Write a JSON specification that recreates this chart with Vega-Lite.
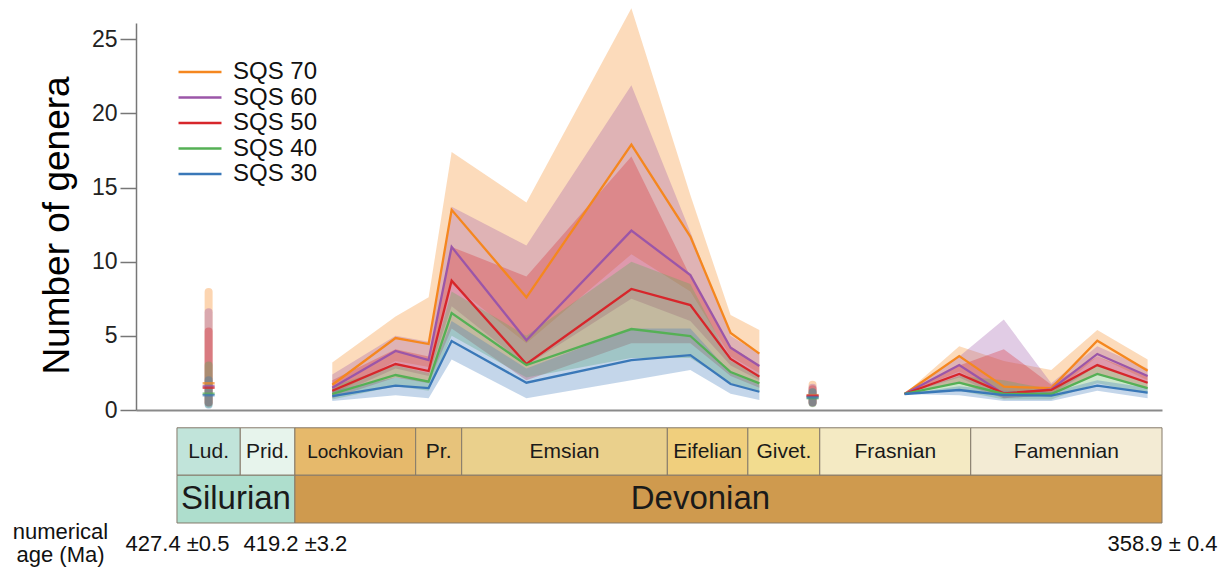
{
  "$schema": "https://vega.github.io/schema/vega-lite/v6.json",
  "width": 1026,
  "height": 387,
  "autosize": "none",
  "padding": {"left": 136, "top": 23, "right": 61, "bottom": 160},
  "background": "white",
  "resolve": {"legend": {"color": "independent"}},
  "config": {
    "font": "Liberation Sans",
    "view": {"stroke": null},
    "legend": {
      "orient": "none",
      "legendX": 52,
      "legendY": 37,
      "title": null,
      "symbolType": "M-3,0H3",
      "symbolSize": 205,
      "symbolStrokeWidth": 2.5,
      "labelFontSize": 24,
      "labelColor": "#111",
      "labelOffset": 21,
      "rowPadding": 1.5
    }
  },
  "datasets": {
    "series": [
      {"s": "SQS 70", "seg": "m", "age": 416.6, "v": 1.7, "lo": 1.0, "hi": 3.2},
      {"s": "SQS 70", "seg": "m", "age": 412.2, "v": 4.85, "lo": 3.3, "hi": 6.3},
      {"s": "SQS 70", "seg": "m", "age": 409.9, "v": 4.45, "lo": 2.9, "hi": 7.6},
      {"s": "SQS 70", "seg": "m", "age": 408.3, "v": 13.5, "lo": 8.5, "hi": 17.4},
      {"s": "SQS 70", "seg": "m", "age": 403.1, "v": 7.6, "lo": 4.5, "hi": 14.0},
      {"s": "SQS 70", "seg": "m", "age": 395.8, "v": 17.9, "lo": 10.5, "hi": 27.1},
      {"s": "SQS 70", "seg": "m", "age": 391.7, "v": 11.7, "lo": 8.0, "hi": 14.5},
      {"s": "SQS 70", "seg": "m", "age": 388.9, "v": 5.2, "lo": 3.6, "hi": 6.4},
      {"s": "SQS 70", "seg": "m", "age": 386.9, "v": 3.8, "lo": 2.5, "hi": 5.4},
      {"s": "SQS 60", "seg": "m", "age": 416.6, "v": 1.5, "lo": 0.9, "hi": 2.4},
      {"s": "SQS 60", "seg": "m", "age": 412.2, "v": 3.98, "lo": 2.8, "hi": 5.0},
      {"s": "SQS 60", "seg": "m", "age": 409.9, "v": 3.37, "lo": 2.3, "hi": 4.6},
      {"s": "SQS 60", "seg": "m", "age": 408.3, "v": 11.0, "lo": 7.0, "hi": 13.7},
      {"s": "SQS 60", "seg": "m", "age": 403.1, "v": 4.7, "lo": 3.0, "hi": 11.1},
      {"s": "SQS 60", "seg": "m", "age": 395.8, "v": 12.1, "lo": 7.5, "hi": 21.9},
      {"s": "SQS 60", "seg": "m", "age": 391.7, "v": 9.1, "lo": 6.0, "hi": 12.0},
      {"s": "SQS 60", "seg": "m", "age": 388.9, "v": 4.2, "lo": 3.0, "hi": 5.0},
      {"s": "SQS 60", "seg": "m", "age": 386.9, "v": 2.97, "lo": 2.0, "hi": 3.8},
      {"s": "SQS 50", "seg": "m", "age": 416.6, "v": 1.3, "lo": 0.8, "hi": 2.0},
      {"s": "SQS 50", "seg": "m", "age": 412.2, "v": 3.1, "lo": 2.2, "hi": 4.1},
      {"s": "SQS 50", "seg": "m", "age": 409.9, "v": 2.63, "lo": 1.8, "hi": 3.6},
      {"s": "SQS 50", "seg": "m", "age": 408.3, "v": 8.72, "lo": 5.5, "hi": 11.0},
      {"s": "SQS 50", "seg": "m", "age": 403.1, "v": 3.1, "lo": 2.0, "hi": 9.0},
      {"s": "SQS 50", "seg": "m", "age": 395.8, "v": 8.16, "lo": 4.5, "hi": 17.1},
      {"s": "SQS 50", "seg": "m", "age": 391.7, "v": 7.08, "lo": 4.5, "hi": 9.0},
      {"s": "SQS 50", "seg": "m", "age": 388.9, "v": 3.44, "lo": 2.3, "hi": 4.3},
      {"s": "SQS 50", "seg": "m", "age": 386.9, "v": 2.25, "lo": 1.5, "hi": 3.0},
      {"s": "SQS 40", "seg": "m", "age": 416.6, "v": 1.08, "lo": 0.7, "hi": 1.6},
      {"s": "SQS 40", "seg": "m", "age": 412.2, "v": 2.36, "lo": 1.6, "hi": 3.0},
      {"s": "SQS 40", "seg": "m", "age": 409.9, "v": 1.91, "lo": 1.3, "hi": 2.5},
      {"s": "SQS 40", "seg": "m", "age": 408.3, "v": 6.54, "lo": 5.0, "hi": 8.0},
      {"s": "SQS 40", "seg": "m", "age": 403.1, "v": 3.03, "lo": 2.2, "hi": 5.0},
      {"s": "SQS 40", "seg": "m", "age": 395.8, "v": 5.46, "lo": 3.5, "hi": 10.0},
      {"s": "SQS 40", "seg": "m", "age": 391.7, "v": 4.99, "lo": 3.5, "hi": 8.5},
      {"s": "SQS 40", "seg": "m", "age": 388.9, "v": 2.56, "lo": 1.8, "hi": 3.3},
      {"s": "SQS 40", "seg": "m", "age": 386.9, "v": 1.8, "lo": 1.2, "hi": 2.4},
      {"s": "SQS 30", "seg": "m", "age": 416.6, "v": 0.94, "lo": 0.6, "hi": 1.3},
      {"s": "SQS 30", "seg": "m", "age": 412.2, "v": 1.64, "lo": 1.0, "hi": 2.2},
      {"s": "SQS 30", "seg": "m", "age": 409.9, "v": 1.48, "lo": 0.8, "hi": 2.0},
      {"s": "SQS 30", "seg": "m", "age": 408.3, "v": 4.65, "lo": 3.4, "hi": 6.0},
      {"s": "SQS 30", "seg": "m", "age": 403.1, "v": 1.84, "lo": 0.8, "hi": 2.8},
      {"s": "SQS 30", "seg": "m", "age": 395.8, "v": 3.37, "lo": 2.0, "hi": 5.5},
      {"s": "SQS 30", "seg": "m", "age": 391.7, "v": 3.7, "lo": 2.7, "hi": 5.5},
      {"s": "SQS 30", "seg": "m", "age": 388.9, "v": 1.75, "lo": 1.1, "hi": 2.5},
      {"s": "SQS 30", "seg": "m", "age": 386.9, "v": 1.23, "lo": 0.67, "hi": 1.7},
      {"s": "SQS 70", "seg": "r", "age": 376.8, "v": 1.08, "lo": 1.08, "hi": 1.08},
      {"s": "SQS 70", "seg": "r", "age": 373.0, "v": 3.64, "lo": 2.6, "hi": 4.3},
      {"s": "SQS 70", "seg": "r", "age": 369.9, "v": 1.57, "lo": 1.0, "hi": 3.3},
      {"s": "SQS 70", "seg": "r", "age": 366.6, "v": 1.48, "lo": 1.0, "hi": 2.7},
      {"s": "SQS 70", "seg": "r", "age": 363.4, "v": 4.67, "lo": 3.6, "hi": 5.4},
      {"s": "SQS 70", "seg": "r", "age": 359.9, "v": 2.65, "lo": 2.0, "hi": 3.4},
      {"s": "SQS 60", "seg": "r", "age": 376.8, "v": 1.08, "lo": 1.08, "hi": 1.08},
      {"s": "SQS 60", "seg": "r", "age": 373.0, "v": 3.03, "lo": 2.2, "hi": 3.6},
      {"s": "SQS 60", "seg": "r", "age": 369.9, "v": 1.08, "lo": 0.8, "hi": 6.1},
      {"s": "SQS 60", "seg": "r", "age": 366.6, "v": 1.39, "lo": 1.0, "hi": 1.8},
      {"s": "SQS 60", "seg": "r", "age": 363.4, "v": 3.78, "lo": 3.0, "hi": 4.3},
      {"s": "SQS 60", "seg": "r", "age": 359.9, "v": 2.29, "lo": 1.8, "hi": 2.8},
      {"s": "SQS 50", "seg": "r", "age": 376.8, "v": 1.08, "lo": 1.08, "hi": 1.08},
      {"s": "SQS 50", "seg": "r", "age": 373.0, "v": 2.43, "lo": 1.8, "hi": 3.0},
      {"s": "SQS 50", "seg": "r", "age": 369.9, "v": 1.12, "lo": 0.8, "hi": 4.1},
      {"s": "SQS 50", "seg": "r", "age": 366.6, "v": 1.35, "lo": 1.0, "hi": 1.7},
      {"s": "SQS 50", "seg": "r", "age": 363.4, "v": 3.03, "lo": 2.4, "hi": 3.6},
      {"s": "SQS 50", "seg": "r", "age": 359.9, "v": 1.84, "lo": 1.4, "hi": 2.3},
      {"s": "SQS 40", "seg": "r", "age": 376.8, "v": 1.08, "lo": 1.08, "hi": 1.08},
      {"s": "SQS 40", "seg": "r", "age": 373.0, "v": 1.84, "lo": 1.3, "hi": 2.3},
      {"s": "SQS 40", "seg": "r", "age": 369.9, "v": 1.08, "lo": 0.7, "hi": 2.0},
      {"s": "SQS 40", "seg": "r", "age": 366.6, "v": 1.08, "lo": 0.7, "hi": 1.4},
      {"s": "SQS 40", "seg": "r", "age": 363.4, "v": 2.43, "lo": 1.8, "hi": 3.0},
      {"s": "SQS 40", "seg": "r", "age": 359.9, "v": 1.48, "lo": 1.1, "hi": 1.9},
      {"s": "SQS 30", "seg": "r", "age": 376.8, "v": 1.08, "lo": 1.08, "hi": 1.08},
      {"s": "SQS 30", "seg": "r", "age": 373.0, "v": 1.35, "lo": 1.0, "hi": 1.6},
      {"s": "SQS 30", "seg": "r", "age": 369.9, "v": 1.01, "lo": 0.6, "hi": 1.3},
      {"s": "SQS 30", "seg": "r", "age": 366.6, "v": 0.97, "lo": 0.6, "hi": 1.2},
      {"s": "SQS 30", "seg": "r", "age": 363.4, "v": 1.64, "lo": 1.3, "hi": 2.0},
      {"s": "SQS 30", "seg": "r", "age": 359.9, "v": 1.17, "lo": 0.8, "hi": 1.5},
      {"s": "SQS 70", "seg": "p1", "age": 425.2, "v": 1.8, "lo": 0.5, "hi": 7.96},
      {"s": "SQS 60", "seg": "p1", "age": 425.2, "v": 1.6, "lo": 0.5, "hi": 6.6},
      {"s": "SQS 50", "seg": "p1", "age": 425.2, "v": 1.5, "lo": 0.5, "hi": 5.3},
      {"s": "SQS 40", "seg": "p1", "age": 425.2, "v": 1.1, "lo": 0.4, "hi": 3.0},
      {"s": "SQS 30", "seg": "p1", "age": 425.2, "v": 1.0, "lo": 0.35, "hi": 2.0},
      {"s": "SQS 70", "seg": "p2", "age": 383.2, "v": 1.0, "lo": 0.5, "hi": 1.7},
      {"s": "SQS 60", "seg": "p2", "age": 383.2, "v": 0.95, "lo": 0.5, "hi": 1.5},
      {"s": "SQS 50", "seg": "p2", "age": 383.2, "v": 0.95, "lo": 0.5, "hi": 1.4},
      {"s": "SQS 40", "seg": "p2", "age": 383.2, "v": 0.8, "lo": 0.45, "hi": 1.2},
      {"s": "SQS 30", "seg": "p2", "age": 383.2, "v": 0.85, "lo": 0.5, "hi": 1.2}
    ],
    "stages": [
      {"name": "Lud.", "start": 427.4, "end": 423.0},
      {"name": "Prid.", "start": 423.0, "end": 419.2},
      {"name": "Lochkovian", "start": 419.2, "end": 410.8},
      {"name": "Pr.", "start": 410.8, "end": 407.6},
      {"name": "Emsian", "start": 407.6, "end": 393.3},
      {"name": "Eifelian", "start": 393.3, "end": 387.7},
      {"name": "Givet.", "start": 387.7, "end": 382.7},
      {"name": "Frasnian", "start": 382.7, "end": 372.2},
      {"name": "Famennian", "start": 372.2, "end": 358.9}
    ],
    "periods": [
      {"name": "Silurian", "start": 427.4, "end": 419.2},
      {"name": "Devonian", "start": 419.2, "end": 358.9}
    ]
  },
  "layer": [
    {
      "data": {"name": "stages"},
      "mark": {"type": "rect", "stroke": "#857a6a", "strokeWidth": 1},
      "encoding": {
        "x": {"field": "start", "type": "quantitative", "scale": {"domain": [430.25, 358.9], "nice": false, "zero": false},
              "axis": {"orient": "bottom", "values": [427.4, 419.2, 358.9],
                       "labelExpr": "datum.value == 427.4 ? '427.4 ±0.5' : datum.value == 419.2 ? '419.2 ±3.2' : '358.9 ± 0.4'",
                       "ticks": false, "grid": false, "domain": true, "domainColor": "#8a8a8a", "domainWidth": 2,
                       "labelFontSize": 22, "labelColor": "#111", "labelPadding": 123, "labelOverlap": false, "labelFlush": false, "labelBound": false,
                       "title": ["numerical", "age (Ma)"], "titleFontSize": 22, "titleFontWeight": "normal", "titleColor": "#111",
                       "titleX": -76, "titleY": 111, "titleAlign": "center", "titleBaseline": "top", "titleLineHeight": 23}},
        "x2": {"field": "end"},
        "y": {"datum": -1.2, "type": "quantitative"},
        "y2": {"datum": -4.4},
        "fill": {"field": "name", "type": "nominal", "legend": null,
                 "scale": {"domain": ["Lud.", "Prid.", "Lochkovian", "Pr.", "Emsian", "Eifelian", "Givet.", "Frasnian", "Famennian", "Silurian", "Devonian"],
                           "range": ["#c1e4da", "#e7f4ec", "#e6b96b", "#e7c37b", "#ead08c", "#f0cf7d", "#f2dc8f", "#f4eac3", "#f3ebd4", "#aedecd", "#cf9a4e"]}}
      }
    },
    {
      "data": {"name": "periods"},
      "mark": {"type": "rect", "stroke": "#857a6a", "strokeWidth": 1},
      "encoding": {
        "x": {"field": "start", "type": "quantitative"},
        "x2": {"field": "end"},
        "y": {"datum": -4.4, "type": "quantitative"},
        "y2": {"datum": -7.62},
        "fill": {"field": "name", "type": "nominal", "legend": null}
      }
    },
    {
      "data": {"name": "stages"},
      "transform": [{"calculate": "(datum.start + datum.end) / 2", "as": "mid"}],
      "mark": {"type": "text", "baseline": "middle", "align": "center", "color": "#1a1a1a"},
      "encoding": {
        "x": {"field": "mid", "type": "quantitative"},
        "y": {"datum": -2.8, "type": "quantitative"},
        "text": {"field": "name"},
        "size": {"condition": {"test": "datum.name === 'Lochkovian'", "value": 19}, "value": 21}
      }
    },
    {
      "data": {"name": "periods"},
      "transform": [{"filter": "datum.name === 'Silurian'"}, {"calculate": "(datum.start + datum.end) / 2", "as": "mid"}],
      "mark": {"type": "text", "baseline": "middle", "align": "center", "fontSize": 33, "color": "#1a1a1a"},
      "encoding": {
        "x": {"field": "mid", "type": "quantitative"},
        "y": {"datum": -6.0, "type": "quantitative"},
        "text": {"field": "name"}
      }
    },
    {
      "data": {"name": "periods"},
      "transform": [{"filter": "datum.name === 'Devonian'"}, {"calculate": "(datum.start + datum.end) / 2", "as": "mid"}],
      "mark": {"type": "text", "baseline": "middle", "align": "center", "fontSize": 33, "color": "#1a1a1a", "dx": -28},
      "encoding": {
        "x": {"field": "mid", "type": "quantitative"},
        "y": {"datum": -6.0, "type": "quantitative"},
        "text": {"field": "name"}
      }
    },
    {
      "data": {"name": "series"},
      "transform": [{"filter": "datum.seg === 'm' || datum.seg === 'r'"}],
      "mark": {"type": "area", "opacity": 0.3},
      "encoding": {
        "x": {"field": "age", "type": "quantitative"},
        "y": {"field": "lo", "type": "quantitative", "scale": {"domain": [0, 26.1], "nice": false, "zero": false},
              "axis": {"values": [0, 5, 10, 15, 20, 25], "grid": false, "domain": true, "domainColor": "#777", "domainWidth": 1.5,
                       "tickColor": "#777", "tickSize": 16, "tickWidth": 1.5, "labelFontSize": 23, "labelColor": "#222", "labelPadding": 3,
                       "title": "Number of genera", "titleFontSize": 37, "titleFontWeight": "normal", "titleColor": "#000",
                       "titleX": -68, "titleY": 202, "titleBaseline": "alphabetic", "titleAngle": -90, "titleAlign": "center"}},
        "y2": {"field": "hi"},
        "color": {"field": "s", "type": "nominal", "legend": null,
                  "scale": {"domain": ["SQS 70", "SQS 60", "SQS 50", "SQS 40", "SQS 30"],
                            "range": ["#f5871f", "#9b56a8", "#d7262b", "#55b055", "#3a78b8"]}},
        "detail": {"field": "seg"}
      }
    },
    {
      "data": {"name": "series"},
      "transform": [{"filter": "datum.seg === 'p1' || datum.seg === 'p2'"}],
      "mark": {"type": "rule", "strokeWidth": 8, "strokeCap": "round", "opacity": 0.35},
      "encoding": {
        "x": {"field": "age", "type": "quantitative"},
        "y": {"field": "lo", "type": "quantitative"},
        "y2": {"field": "hi"},
        "color": {"field": "s", "type": "nominal", "legend": null}
      }
    },
    {
      "data": {"name": "series"},
      "transform": [{"filter": "datum.seg === 'm' || datum.seg === 'r'"}],
      "mark": {"type": "line", "strokeWidth": 2.3},
      "encoding": {
        "x": {"field": "age", "type": "quantitative"},
        "y": {"field": "v", "type": "quantitative"},
        "color": {"field": "s", "type": "nominal", "legend": {}},
        "detail": {"field": "seg"}
      }
    },
    {
      "data": {"name": "series"},
      "transform": [{"filter": "datum.seg === 'p1' || datum.seg === 'p2'"}],
      "mark": {"type": "tick", "orient": "horizontal", "size": 12, "thickness": 2.5},
      "encoding": {
        "x": {"field": "age", "type": "quantitative"},
        "y": {"field": "v", "type": "quantitative"},
        "color": {"field": "s", "type": "nominal", "legend": null}
      }
    }
  ]
}
